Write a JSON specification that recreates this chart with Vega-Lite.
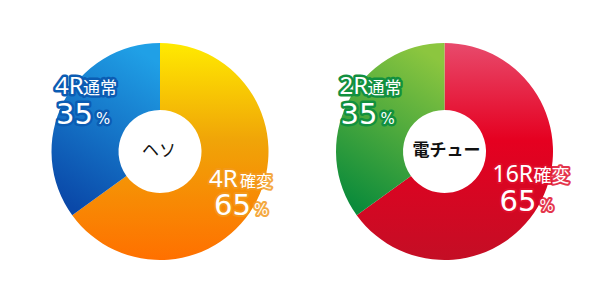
{
  "$schema": "https://vega.github.io/schema/vega-lite/v6.json",
  "width": 600,
  "height": 299,
  "autosize": {"type": "none"},
  "padding": {"top": 2, "left": 0, "right": 0, "bottom": 0},
  "background": "white",
  "config": {"view": {"stroke": null}},
  "data": {"values": [
    {"chart": "ヘソ", "kind": "確変", "round": "4R", "pct": 65, "order": 1},
    {"chart": "ヘソ", "kind": "通常", "round": "4R", "pct": 35, "order": 2},
    {"chart": "電チュー", "kind": "確変", "round": "16R", "pct": 65, "order": 1},
    {"chart": "電チュー", "kind": "通常", "round": "2R", "pct": 35, "order": 2}
  ]},
  "transform": [
    {"stack": "pct", "groupby": ["chart"], "sort": [{"field": "order", "order": "ascending"}], "as": ["t0", "t1"]}
  ],
  "layer": [
    {
      "mark": {"type": "arc", "outerRadius": 108.5, "innerRadius": 41.5},
      "encoding": {
        "x": {"field": "chart", "type": "nominal", "scale": {"type": "point", "domain": ["ヘソ", "電チュー"], "range": [160, 444.5], "padding": 0}, "axis": null},
        "theta": {"field": "t0", "type": "quantitative", "scale": {"domain": [0, 100], "range": [0, 6.283185307]}},
        "theta2": {"field": "t1"},
        "fill": {
          "condition": [
            {"test": "datum.chart === 'ヘソ' && datum.kind === '確変'", "value": {"gradient": "linear", "x1": 0, "y1": 0, "x2": 0, "y2": 1, "stops": [{"offset": 0, "color": "#FFEA00"}, {"offset": 0.45, "color": "#F0A408"}, {"offset": 1, "color": "#FF7000"}]}},
            {"test": "datum.chart === 'ヘソ' && datum.kind === '通常'", "value": {"gradient": "linear", "x1": 0.7, "y1": 0, "x2": 0.3, "y2": 1, "stops": [{"offset": 0, "color": "#20A0E6"}, {"offset": 1, "color": "#0A48A8"}]}},
            {"test": "datum.kind === '通常'", "value": {"gradient": "linear", "x1": 0.7, "y1": 0, "x2": 0.3, "y2": 1, "stops": [{"offset": 0, "color": "#8CC63F"}, {"offset": 1, "color": "#0B8B3B"}]}}
          ],
          "value": {"gradient": "linear", "x1": 0, "y1": 0, "x2": 0, "y2": 1, "stops": [{"offset": 0, "color": "#E84A6C"}, {"offset": 0.45, "color": "#E50020"}, {"offset": 1, "color": "#C40E25"}]}
        }
      }
    },
    {
      "transform": [{"filter": "datum.kind === '確変' && datum.chart === 'ヘソ'"}],
      "mark": {"type": "text", "align": "center", "baseline": "middle", "dx": -1, "dy": -1, "font": "Noto Sans CJK JP", "fontSize": 17, "fill": "#111111"},
      "encoding": {"x": {"field": "chart", "type": "nominal", "axis": null}, "text": {"field": "chart"}}
    },
    {
      "transform": [{"filter": "datum.kind === '確変' && datum.chart === '電チュー'"}],
      "mark": {"type": "text", "align": "center", "baseline": "middle", "dx": 2, "dy": -1, "font": "Noto Sans CJK JP", "fontSize": 17, "fontWeight": "bold", "fill": "#111111"},
      "encoding": {"x": {"field": "chart", "type": "nominal", "axis": null}, "text": {"field": "chart"}}
    },

    {
      "transform": [{"filter": "datum.kind === '通常'"}],
      "mark": {"type": "text", "align": "left", "baseline": "alphabetic", "dx": -105, "dy": -58, "font": "Noto Sans", "fontSize": 24, "fill": "white", "strokeWidth": 5, "strokeJoin": "round"},
      "encoding": {"x": {"field": "chart", "type": "nominal", "axis": null}, "text": {"field": "round"}, "stroke": {"condition": {"test": "datum.chart === 'ヘソ'", "value": "#0B5CB3"}, "value": "#12903F"}}
    },
    {
      "transform": [{"filter": "datum.kind === '通常'"}],
      "mark": {"type": "text", "align": "left", "baseline": "alphabetic", "dx": -77, "dy": -58, "font": "Noto Sans CJK JP", "fontSize": 17, "fill": "white", "strokeWidth": 5, "strokeJoin": "round", "text": "通常"},
      "encoding": {"x": {"field": "chart", "type": "nominal", "axis": null}, "stroke": {"condition": {"test": "datum.chart === 'ヘソ'", "value": "#0B5CB3"}, "value": "#12903F"}}
    },
    {
      "transform": [{"filter": "datum.kind === '通常'"}],
      "mark": {"type": "text", "align": "left", "baseline": "alphabetic", "dx": -104, "dy": -28, "font": "DejaVu Sans", "fontSize": 29, "fill": "white", "strokeWidth": 5, "strokeJoin": "round"},
      "encoding": {"x": {"field": "chart", "type": "nominal", "axis": null}, "text": {"field": "pct", "type": "quantitative", "format": "d"}, "stroke": {"condition": {"test": "datum.chart === 'ヘソ'", "value": "#0B5CB3"}, "value": "#12903F"}}
    },
    {
      "transform": [{"filter": "datum.kind === '通常'"}],
      "mark": {"type": "text", "align": "left", "baseline": "alphabetic", "dx": -64, "dy": -28, "font": "DejaVu Sans", "fontSize": 15, "fill": "white", "strokeWidth": 5, "strokeJoin": "round", "text": "%"},
      "encoding": {"x": {"field": "chart", "type": "nominal", "axis": null}, "stroke": {"condition": {"test": "datum.chart === 'ヘソ'", "value": "#0B5CB3"}, "value": "#12903F"}}
    },
    {
      "transform": [{"filter": "datum.kind === '通常'"}],
      "mark": {"type": "text", "align": "left", "baseline": "alphabetic", "dx": -105, "dy": -58, "font": "Noto Sans", "fontSize": 24, "fill": "white"},
      "encoding": {"x": {"field": "chart", "type": "nominal", "axis": null}, "text": {"field": "round"}}
    },
    {
      "transform": [{"filter": "datum.kind === '通常'"}],
      "mark": {"type": "text", "align": "left", "baseline": "alphabetic", "dx": -77, "dy": -58, "font": "Noto Sans CJK JP", "fontSize": 17, "fill": "white", "text": "通常"},
      "encoding": {"x": {"field": "chart", "type": "nominal", "axis": null}}
    },
    {
      "transform": [{"filter": "datum.kind === '通常'"}],
      "mark": {"type": "text", "align": "left", "baseline": "alphabetic", "dx": -104, "dy": -28, "font": "DejaVu Sans", "fontSize": 29, "fill": "white"},
      "encoding": {"x": {"field": "chart", "type": "nominal", "axis": null}, "text": {"field": "pct", "type": "quantitative", "format": "d"}}
    },
    {
      "transform": [{"filter": "datum.kind === '通常'"}],
      "mark": {"type": "text", "align": "left", "baseline": "alphabetic", "dx": -64, "dy": -28, "font": "DejaVu Sans", "fontSize": 15, "fill": "white", "text": "%"},
      "encoding": {"x": {"field": "chart", "type": "nominal", "axis": null}}
    },

    {
      "transform": [{"filter": "datum.kind === '確変' && datum.chart === 'ヘソ'"}],
      "mark": {"type": "text", "align": "left", "baseline": "alphabetic", "dx": 49, "dy": 35, "font": "Noto Sans", "fontSize": 24, "fill": "white", "stroke": "#F39A1E", "strokeWidth": 4, "strokeJoin": "round", "strokeOpacity": 0.85},
      "encoding": {"x": {"field": "chart", "type": "nominal", "axis": null}, "text": {"field": "round"}}
    },
    {
      "transform": [{"filter": "datum.kind === '確変' && datum.chart === 'ヘソ'"}],
      "mark": {"type": "text", "align": "left", "baseline": "alphabetic", "dx": 80, "dy": 35, "font": "Noto Sans CJK JP", "fontSize": 16, "fill": "white", "stroke": "#F39A1E", "strokeWidth": 4, "strokeJoin": "round", "strokeOpacity": 0.85, "text": "確変"},
      "encoding": {"x": {"field": "chart", "type": "nominal", "axis": null}}
    },
    {
      "transform": [{"filter": "datum.kind === '確変' && datum.chart === 'ヘソ'"}],
      "mark": {"type": "text", "align": "left", "baseline": "alphabetic", "dx": 54, "dy": 63, "font": "DejaVu Sans", "fontSize": 29, "fill": "white", "stroke": "#F39A1E", "strokeWidth": 4, "strokeJoin": "round", "strokeOpacity": 0.85},
      "encoding": {"x": {"field": "chart", "type": "nominal", "axis": null}, "text": {"field": "pct", "type": "quantitative", "format": "d"}}
    },
    {
      "transform": [{"filter": "datum.kind === '確変' && datum.chart === 'ヘソ'"}],
      "mark": {"type": "text", "align": "left", "baseline": "alphabetic", "dx": 94, "dy": 63, "font": "DejaVu Sans", "fontSize": 15, "fill": "white", "stroke": "#F39A1E", "strokeWidth": 4, "strokeJoin": "round", "strokeOpacity": 0.85, "text": "%"},
      "encoding": {"x": {"field": "chart", "type": "nominal", "axis": null}}
    },
    {
      "transform": [{"filter": "datum.kind === '確変' && datum.chart === 'ヘソ'"}],
      "mark": {"type": "text", "align": "left", "baseline": "alphabetic", "dx": 49, "dy": 35, "font": "Noto Sans", "fontSize": 24, "fill": "white"},
      "encoding": {"x": {"field": "chart", "type": "nominal", "axis": null}, "text": {"field": "round"}}
    },
    {
      "transform": [{"filter": "datum.kind === '確変' && datum.chart === 'ヘソ'"}],
      "mark": {"type": "text", "align": "left", "baseline": "alphabetic", "dx": 80, "dy": 35, "font": "Noto Sans CJK JP", "fontSize": 16, "fill": "white", "text": "確変"},
      "encoding": {"x": {"field": "chart", "type": "nominal", "axis": null}}
    },
    {
      "transform": [{"filter": "datum.kind === '確変' && datum.chart === 'ヘソ'"}],
      "mark": {"type": "text", "align": "left", "baseline": "alphabetic", "dx": 54, "dy": 63, "font": "DejaVu Sans", "fontSize": 29, "fill": "white"},
      "encoding": {"x": {"field": "chart", "type": "nominal", "axis": null}, "text": {"field": "pct", "type": "quantitative", "format": "d"}}
    },
    {
      "transform": [{"filter": "datum.kind === '確変' && datum.chart === 'ヘソ'"}],
      "mark": {"type": "text", "align": "left", "baseline": "alphabetic", "dx": 94, "dy": 63, "font": "DejaVu Sans", "fontSize": 15, "fill": "white", "text": "%"},
      "encoding": {"x": {"field": "chart", "type": "nominal", "axis": null}}
    },

    {
      "transform": [{"filter": "datum.kind === '確変' && datum.chart === '電チュー'"}],
      "mark": {"type": "text", "align": "left", "baseline": "alphabetic", "dx": 48, "dy": 30, "font": "Noto Sans", "fontSize": 23, "fill": "white", "stroke": "#E0102C", "strokeWidth": 4, "strokeJoin": "round", "strokeOpacity": 0.85},
      "encoding": {"x": {"field": "chart", "type": "nominal", "axis": null}, "text": {"field": "round"}}
    },
    {
      "transform": [{"filter": "datum.kind === '確変' && datum.chart === '電チュー'"}],
      "mark": {"type": "text", "align": "left", "baseline": "alphabetic", "dx": 89, "dy": 30, "font": "Noto Sans CJK JP", "fontSize": 18, "fill": "white", "stroke": "#E0102C", "strokeWidth": 4, "strokeJoin": "round", "strokeOpacity": 0.85, "text": "確変"},
      "encoding": {"x": {"field": "chart", "type": "nominal", "axis": null}}
    },
    {
      "transform": [{"filter": "datum.kind === '確変' && datum.chart === '電チュー'"}],
      "mark": {"type": "text", "align": "left", "baseline": "alphabetic", "dx": 55, "dy": 59, "font": "DejaVu Sans", "fontSize": 29, "fill": "white", "stroke": "#E0102C", "strokeWidth": 4, "strokeJoin": "round", "strokeOpacity": 0.85},
      "encoding": {"x": {"field": "chart", "type": "nominal", "axis": null}, "text": {"field": "pct", "type": "quantitative", "format": "d"}}
    },
    {
      "transform": [{"filter": "datum.kind === '確変' && datum.chart === '電チュー'"}],
      "mark": {"type": "text", "align": "left", "baseline": "alphabetic", "dx": 95, "dy": 59, "font": "DejaVu Sans", "fontSize": 15, "fill": "white", "stroke": "#E0102C", "strokeWidth": 4, "strokeJoin": "round", "strokeOpacity": 0.85, "text": "%"},
      "encoding": {"x": {"field": "chart", "type": "nominal", "axis": null}}
    },
    {
      "transform": [{"filter": "datum.kind === '確変' && datum.chart === '電チュー'"}],
      "mark": {"type": "text", "align": "left", "baseline": "alphabetic", "dx": 48, "dy": 30, "font": "Noto Sans", "fontSize": 23, "fill": "white"},
      "encoding": {"x": {"field": "chart", "type": "nominal", "axis": null}, "text": {"field": "round"}}
    },
    {
      "transform": [{"filter": "datum.kind === '確変' && datum.chart === '電チュー'"}],
      "mark": {"type": "text", "align": "left", "baseline": "alphabetic", "dx": 89, "dy": 30, "font": "Noto Sans CJK JP", "fontSize": 18, "fill": "white", "text": "確変"},
      "encoding": {"x": {"field": "chart", "type": "nominal", "axis": null}}
    },
    {
      "transform": [{"filter": "datum.kind === '確変' && datum.chart === '電チュー'"}],
      "mark": {"type": "text", "align": "left", "baseline": "alphabetic", "dx": 55, "dy": 59, "font": "DejaVu Sans", "fontSize": 29, "fill": "white"},
      "encoding": {"x": {"field": "chart", "type": "nominal", "axis": null}, "text": {"field": "pct", "type": "quantitative", "format": "d"}}
    },
    {
      "transform": [{"filter": "datum.kind === '確変' && datum.chart === '電チュー'"}],
      "mark": {"type": "text", "align": "left", "baseline": "alphabetic", "dx": 95, "dy": 59, "font": "DejaVu Sans", "fontSize": 15, "fill": "white", "text": "%"},
      "encoding": {"x": {"field": "chart", "type": "nominal", "axis": null}}
    }
  ]
}
